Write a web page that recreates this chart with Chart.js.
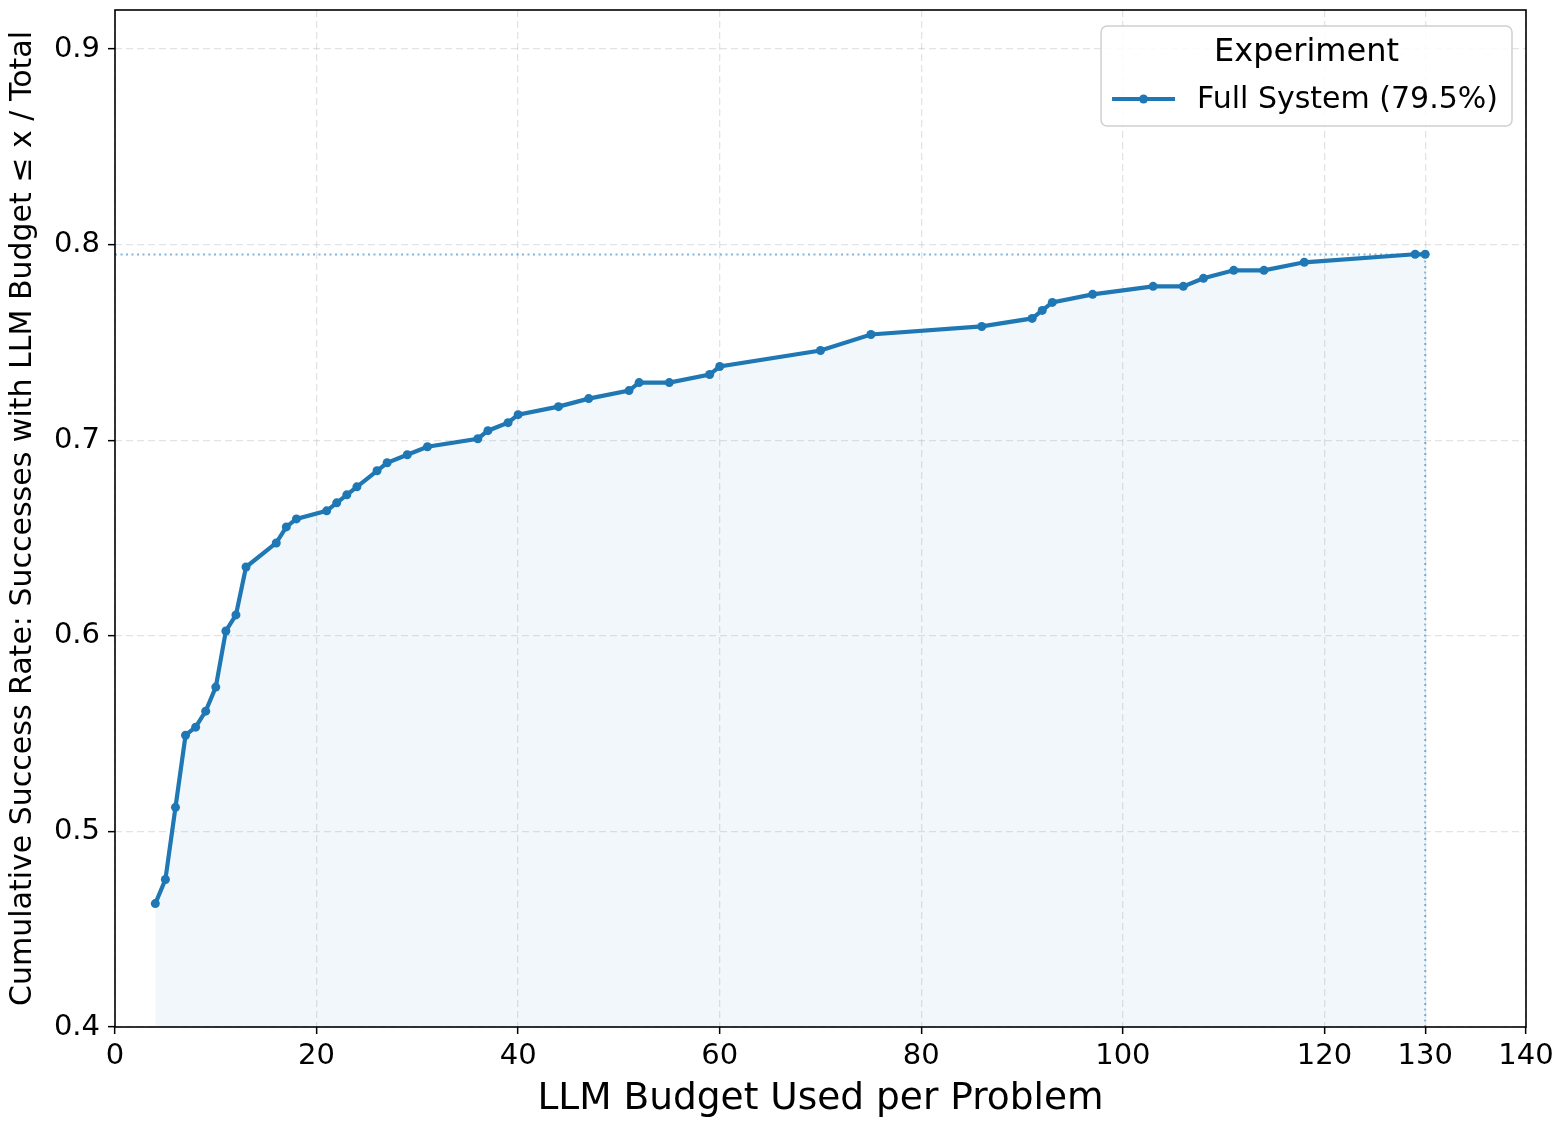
<!DOCTYPE html>
<html>
<head>
<meta charset="utf-8">
<script src="https://cdn.jsdelivr.net/npm/chart.js@4.4.1/dist/chart.umd.min.js"></script>
<style>
  html, body { margin: 0; padding: 0; background: #fff; }
  #wrap { width: 1566px; height: 1131px; }
</style>
</head>
<body>
<div id="wrap"><canvas id="chart" width="1566" height="1131"></canvas></div>
<script>
// budget used per problem (x) and cumulative success rate (y)
const budgets = [4, 5, 6, 7, 8, 9, 10, 11, 12, 13, 16, 17, 18, 21, 22, 23, 24, 26, 27, 29, 31,
  36, 37, 39, 40, 44, 47, 51, 52, 55, 59, 60, 70, 75, 86, 91, 92, 93, 97, 103, 106, 108,
  111, 114, 118, 129, 130];
const successRates = [0.4631, 0.4754, 0.5123, 0.5492, 0.5533, 0.5615, 0.5738, 0.6025, 0.6107,
  0.6352, 0.6475, 0.6557, 0.6598, 0.6639, 0.6680, 0.6721, 0.6762, 0.6844, 0.6885, 0.6926,
  0.6967, 0.7008, 0.7049, 0.7090, 0.7131, 0.7172, 0.7213, 0.7254, 0.7295, 0.7295, 0.7336,
  0.7377, 0.7459, 0.7541, 0.7582, 0.7623, 0.7664, 0.7705, 0.7746, 0.7787, 0.7787, 0.7828,
  0.7869, 0.7869, 0.7910, 0.7951, 0.7951];

const maxBudget = 130;
const finalRate = 0.795;

const xTicks = [0, 20, 40, 60, 80, 100, 120, 130, 140];
const yTicks = [0.4, 0.5, 0.6, 0.7, 0.8, 0.9];

const seriesLabel = "Full System (79.5%)";
const legendTitle = "Experiment";

const BLUE = "#1f77b4";
const FONT = "DejaVu Sans";

Chart.defaults.font.family = FONT;
Chart.defaults.color = "#000";

// black frame round the plot area
const framePlugin = {
  id: "frame",
  afterDraw(chart) {
    const { ctx, chartArea: a } = chart;
    ctx.save();
    ctx.strokeStyle = "#000";
    ctx.lineWidth = 1.6;
    ctx.strokeRect(a.left, a.top, a.right - a.left, a.bottom - a.top);
    ctx.restore();
  },
};

// matplotlib style legend box, top right inside the plot
const legendPlugin = {
  id: "boxLegend",
  afterDraw(chart) {
    const { ctx, chartArea: a } = chart;
    const ds = chart.data.datasets[0];
    ctx.save();
    ctx.font = `30px "${FONT}"`;
    const labelW = ctx.measureText(ds.label).width;
    const padL = 11, handleLen = 63, gap = 22, padR = 14;
    const w = padL + handleLen + gap + labelW + padR;
    const h = 100;
    const x = a.right - 14 - w;
    const y = a.top + 16;

    ctx.beginPath();
    ctx.roundRect(x, y, w, h, 6);
    ctx.fillStyle = "rgba(255,255,255,0.85)";
    ctx.fill();
    ctx.strokeStyle = "#d0d0d0";
    ctx.lineWidth = 1.5;
    ctx.stroke();

    ctx.fillStyle = "#000";
    ctx.textBaseline = "middle";
    ctx.textAlign = "center";
    ctx.font = `32px "${FONT}"`;
    ctx.fillText(legendTitle, x + w / 2, y + 27);

    const rowY = y + 73;
    ctx.strokeStyle = ds.borderColor;
    ctx.lineWidth = ds.borderWidth;
    ctx.beginPath();
    ctx.moveTo(x + padL, rowY);
    ctx.lineTo(x + padL + handleLen, rowY);
    ctx.stroke();
    ctx.fillStyle = ds.borderColor;
    ctx.beginPath();
    ctx.arc(x + padL + handleLen / 2, rowY, 4.5, 0, Math.PI * 2);
    ctx.fill();

    ctx.fillStyle = "#000";
    ctx.textAlign = "left";
    ctx.font = `30px "${FONT}"`;
    ctx.fillText(ds.label, x + padL + handleLen + gap, rowY + 1);
    ctx.restore();
  },
};

const points = budgets.map((b, i) => ({ x: b, y: successRates[i] }));

const ctx = document.getElementById("chart").getContext("2d");
new Chart(ctx, {
  type: "line",
  data: {
    datasets: [
      {
        label: seriesLabel,
        data: points,
        borderColor: BLUE,
        backgroundColor: "rgba(31,119,180,0.06)",
        pointBackgroundColor: BLUE,
        pointBorderColor: BLUE,
        borderWidth: 4.2,
        pointRadius: 4.5,
        pointBorderWidth: 0,
        tension: 0,
        fill: "start",
      },
      {
        label: "final rate",
        data: [{ x: 0, y: finalRate }, { x: maxBudget, y: finalRate }],
        borderColor: "rgba(31,119,180,0.55)",
        borderWidth: 2,
        borderDash: [2, 3.5],
        pointRadius: 0,
        fill: false,
      },
      {
        label: "max budget",
        data: [{ x: maxBudget, y: 0.4 }, { x: maxBudget, y: finalRate }],
        borderColor: "rgba(31,119,180,0.55)",
        borderWidth: 2,
        borderDash: [2, 3.5],
        pointRadius: 0,
        fill: false,
      },
    ],
  },
  options: {
    responsive: false,
    animation: false,
    devicePixelRatio: 1,
    layout: { padding: { top: 10, right: 40, left: 0, bottom: 0 } },
    plugins: {
      legend: { display: false },
      tooltip: { enabled: false },
    },
    scales: {
      x: {
        type: "linear",
        min: 0,
        max: 140,
        afterBuildTicks: (scale) => {
          scale.ticks = xTicks.map((v) => ({ value: v }));
        },
        afterFit: (scale) => {
          scale.height = 104;
        },
        ticks: {
          autoSkip: false,
          maxRotation: 0,
          padding: 5,
          font: { size: 29 },
          callback: (v) => String(v),
        },
        grid: {
          color: "rgba(176,176,176,0.35)",
          lineWidth: 1.3,
          tickColor: "#000",
          tickLength: 7,
          tickWidth: 1.5,
        },
        border: { display: false, dash: [7, 4] },
        title: {
          display: true,
          text: "LLM Budget Used per Problem",
          font: { size: 37.5 },
          padding: { top: 0, bottom: 9 },
        },
      },
      y: {
        type: "linear",
        min: 0.4,
        max: 0.92,
        afterBuildTicks: (scale) => {
          scale.ticks = yTicks.map((v) => ({ value: v }));
        },
        afterFit: (scale) => {
          scale.width = 115;
          scale.paddingTop = 0;
          scale.paddingBottom = 0;
        },
        ticks: {
          padding: 8,
          font: { size: 29 },
          callback: (v) => v.toFixed(1),
        },
        grid: {
          color: "rgba(176,176,176,0.35)",
          lineWidth: 1.3,
          tickColor: "#000",
          tickLength: 7,
          tickWidth: 1.5,
        },
        border: { display: false, dash: [7, 4] },
        title: {
          display: true,
          text: "Cumulative Success Rate: Successes with LLM Budget ≤ x / Total",
          font: { size: 30 },
          padding: { top: 5, bottom: 0 },
        },
      },
    },
  },
  plugins: [framePlugin, legendPlugin],
});
</script>
</body>
</html>
